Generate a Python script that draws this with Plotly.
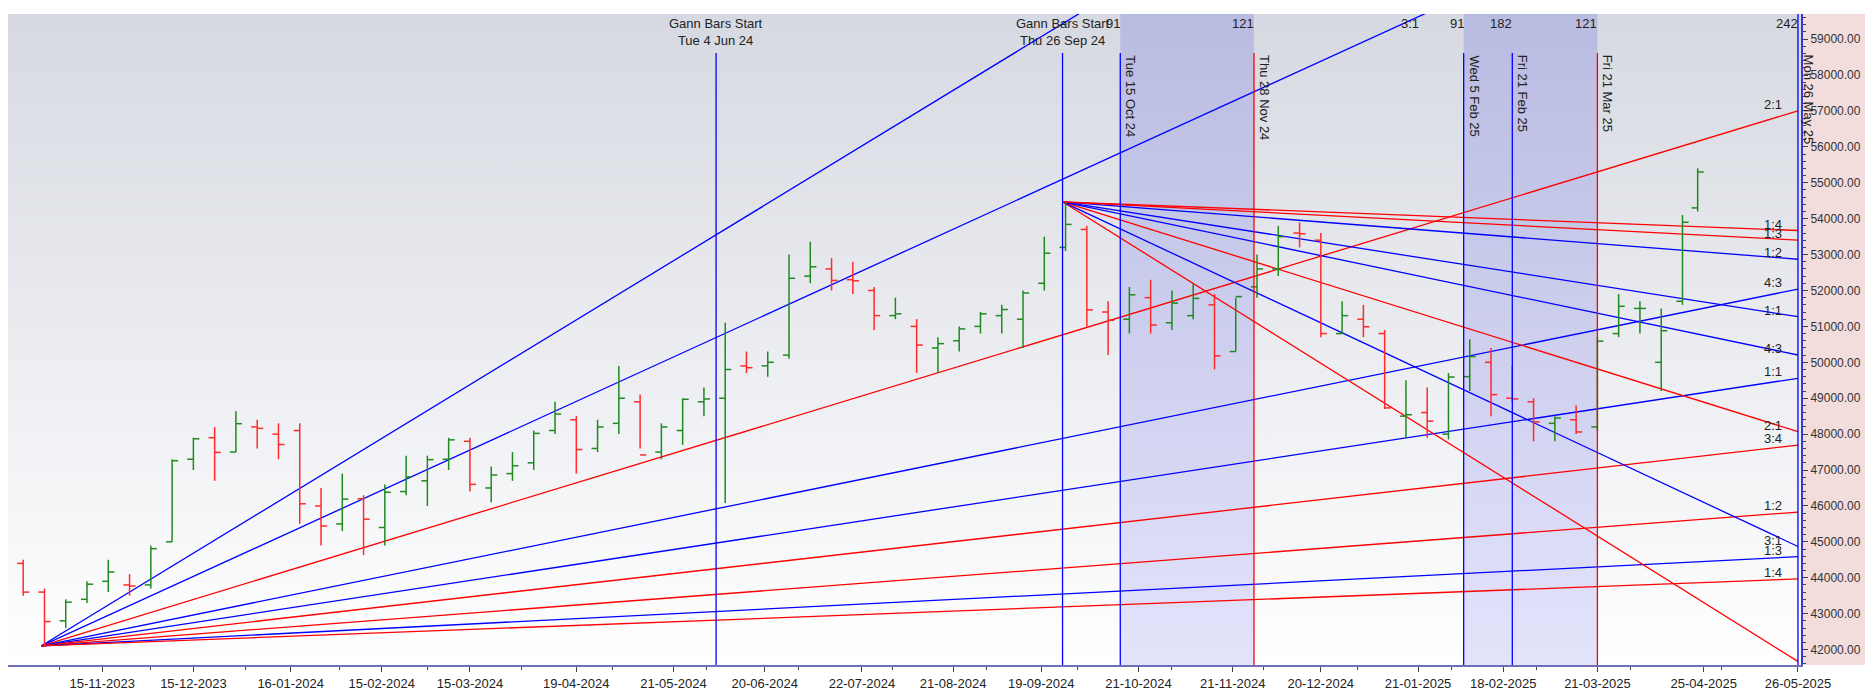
from datetime import date, timedelta

import plotly.graph_objects as go

# weekly bars (week ending date)
dates = ["2023-10-20", "2023-10-27", "2023-11-03", "2023-11-10", "2023-11-17", "2023-11-24",
         "2023-12-01", "2023-12-08", "2023-12-15", "2023-12-22", "2023-12-29", "2024-01-05",
         "2024-01-12", "2024-01-19", "2024-01-26", "2024-02-02", "2024-02-09", "2024-02-16",
         "2024-02-23", "2024-03-01", "2024-03-08", "2024-03-15", "2024-03-22", "2024-03-29",
         "2024-04-05", "2024-04-12", "2024-04-19", "2024-04-26", "2024-05-03", "2024-05-10",
         "2024-05-17", "2024-05-24", "2024-05-31", "2024-06-07", "2024-06-14", "2024-06-21",
         "2024-06-28", "2024-07-05", "2024-07-12", "2024-07-19", "2024-07-26", "2024-08-02",
         "2024-08-09", "2024-08-16", "2024-08-23", "2024-08-30", "2024-09-06", "2024-09-13",
         "2024-09-20", "2024-09-27", "2024-10-04", "2024-10-11", "2024-10-18", "2024-10-25",
         "2024-11-01", "2024-11-08", "2024-11-15", "2024-11-22", "2024-11-29", "2024-12-06",
         "2024-12-13", "2024-12-20", "2024-12-27", "2025-01-03", "2025-01-10", "2025-01-17",
         "2025-01-24", "2025-01-31", "2025-02-07", "2025-02-14", "2025-02-21", "2025-02-28",
         "2025-03-07", "2025-03-14", "2025-03-21", "2025-03-28", "2025-04-04", "2025-04-11",
         "2025-04-18", "2025-04-23"]
opens = [44400, 43600, 42800, 43400, 43900, 43800, 43800, 45000, 47300, 47900, 47500, 48200,
         48000, 48100, 46000, 45500, 46200, 45400, 46400, 46700, 47300, 47800, 46500, 46900,
         47200, 48100, 48400, 47600, 48300, 48900, 47500, 48100, 48900, 49000, 49900, 49900,
         50200, 52400, 52600, 52300, 52000, 51300, 51000, 50400, 50600, 51000, 51300, 51200,
         52200, 53200, 53700, 51400, 51200, 51800, 51100, 51300, 51600, 50300, 52100, 52600,
         53600, 53400, 50800, 51200, 50800, 48500, 48600, 48000, 49600, 50000, 49000, 48900,
         48300, 48400, 48200, 50800, 51500, 50000, 51700, 54300]
highs = [44500, 43700, 43400, 43900, 44500, 44100, 44900, 47300, 47900, 48200, 48640, 48400,
         48300, 48300, 46500, 46900, 46300, 46600, 47400, 47400, 47900, 47900, 47100, 47500,
         48100, 48900, 48500, 48400, 49900, 49100, 48300, 49000, 49300, 51100, 50300, 50300,
         53000, 53360, 52900, 52800, 52100, 51800, 51200, 50700, 51000, 51400, 51600, 52000,
         53500, 54470, 53800, 51700, 52100, 52300, 52000, 52200, 51900, 51800, 53000, 53800,
         53900, 53600, 51700, 51600, 50900, 49500, 49300, 49700, 50640, 50400, 49900, 49000,
         48500, 48800, 50700, 51900, 51700, 51500, 54100, 55400]
lows = [43500, 42105, 42600, 43300, 43600, 43500, 43700, 45000, 47000, 46700, 47500, 47600,
        47300, 45500, 44900, 45300, 44630, 44900, 46300, 46000, 47000, 46400, 46100, 46700,
        47000, 48000, 46900, 47500, 48000, 47600, 47300, 47700, 48500, 46080, 49700, 49600,
        50100, 52200, 52000, 51900, 50900, 51200, 49700, 49700, 50300, 50800, 50800, 50400,
        52000, 53100, 51000, 50200, 50800, 50800, 50900, 51200, 49800, 50300, 51800, 52400,
        53200, 50700, 50800, 50700, 48700, 47900, 47900, 47850, 49200, 48500, 48900, 47800,
        47800, 48000, 48100, 50700, 50800, 49200, 51600, 54200]
closes = [43600, 42780, 43320, 43820, 44160, 43770, 44810, 47260, 47870, 47490, 48290, 48160,
          47710, 46060, 45440, 46190, 45630, 46380, 46810, 47290, 47840, 46600, 46860, 47120,
          48020, 48560, 47570, 48200, 49000, 47420, 48200, 48970, 48980, 49800, 49850, 50000,
          52340, 52660, 52280, 52270, 51300, 51350, 50480, 50520, 50930, 51350, 51470, 51930,
          53040, 53840, 51460, 51170, 51880, 51040, 51650, 51780, 50180, 51830, 52600, 53500,
          53580, 50800, 51300, 50990, 48730, 48540, 48360, 49590, 50160, 49100, 48980, 48340,
          48450, 48060, 50590, 51560, 51500, 50880, 53900, 55300]

# Gann fans: origin, ratio labels, colours, 1:1 move at the right edge
fan_end = "2025-05-26"
fan1_origin = ("2023-10-26", 42105)
fan1_unit = 7450
fan1_ratios = ["4:1", "3:1", "2:1", "4:3", "1:1", "3:4", "1:2", "1:3", "1:4"]
fan1_mult = [4, 3, 2, 4 / 3, 1, 3 / 4, 1 / 2, 1 / 3, 1 / 4]
fan1_colors = ["blue", "blue", "red", "blue", "blue", "red", "red", "blue", "red"]
fan2_origin = ("2024-09-26", 54470)
fan2_unit = -3200
fan2_ratios = ["4:1", "3:1", "2:1", "4:3", "1:1", "1:2", "1:3", "1:4"]
fan2_mult = [4, 3, 2, 4 / 3, 1, 1 / 2, 1 / 3, 1 / 4]
fan2_colors = ["red", "blue", "red", "blue", "blue", "blue", "red", "red"]

# time markers
vline_dates = ["2024-06-04", "2024-09-26", "2024-10-15", "2024-11-28", "2025-02-05",
               "2025-02-21", "2025-03-21", "2025-05-26"]
vline_text = ["", "", "Tue 15 Oct 24", "Thu 28 Nov 24", "Wed 5 Feb 25", "Fri 21 Feb 25",
              "Fri 21 Mar 25", "Mon 26 May 25"]
vline_colors = ["blue", "blue", "blue", "red", "blue", "blue", "red", "blue"]
count_text = ["", "", "91", "121", "91", "182", "121", "242"]
shade_ranges = [("2024-10-15", "2024-11-28"), ("2025-02-05", "2025-03-21")]

tick_dates = ["2023-11-15", "2023-12-15", "2024-01-16", "2024-02-15", "2024-03-15",
              "2024-04-19", "2024-05-21", "2024-06-20", "2024-07-22", "2024-08-21",
              "2024-09-19", "2024-10-21", "2024-11-21", "2024-12-20", "2025-01-21",
              "2025-02-18", "2025-03-21", "2025-04-25", "2025-05-26"]
tick_text = ["-".join(reversed(d.split("-"))) for d in tick_dates]

x_start, x_stop = "2023-10-15", "2025-05-27"
y_lo, y_hi = 41570, 59700

fig = go.Figure()

# background gradient
fig.add_trace(go.Scatter(x=[x_start, x_stop, x_stop, x_start], y=[y_lo, y_lo, y_hi, y_hi],
                         fill="toself", mode="none", hoverinfo="skip", showlegend=False,
                         fillgradient=dict(type="vertical",
                                           colorscale=[[0, "#ffffff"], [1, "#d6d9e1"]])))
for a, b in shade_ranges:
    fig.add_trace(go.Scatter(x=[a, b, b, a], y=[y_lo, y_lo, y_hi, y_hi],
                             fill="toself", mode="none", hoverinfo="skip", showlegend=False,
                             fillgradient=dict(type="vertical",
                                               colorscale=[[0, "rgba(215,215,250,0.7)"],
                                                           [1, "rgba(175,178,225,0.75)"]])))

for origin, unit, mults, cols in [(fan1_origin, fan1_unit, fan1_mult, fan1_colors),
                                   (fan2_origin, fan2_unit, fan2_mult, fan2_colors)]:
    for m, c in zip(mults, cols):
        fig.add_trace(go.Scatter(x=[origin[0], fan_end], y=[origin[1], origin[1] + unit * m],
                                 mode="lines", line=dict(color=c, width=1.3),
                                 hoverinfo="skip", showlegend=False))

# OHLC bars drawn as line segments (stem, open tick left, close tick right)
bars = {True: ([], []), False: ([], [])}
for d, o, h, l, c in zip(dates, opens, highs, lows, closes):
    t = date.fromisoformat(d)
    left, right = t - timedelta(days=2), t + timedelta(days=2)
    xs, ys = bars[c >= o]
    xs += [t, t, None, left, t, None, t, right, None]
    ys += [l, h, None, o, o, None, c, c, None]
for up, col in [(True, "#1f8a1f"), (False, "#ff2a2a")]:
    fig.add_trace(go.Scatter(x=bars[up][0], y=bars[up][1], mode="lines",
                             line=dict(color=col, width=1.5), hoverinfo="skip",
                             showlegend=False))

font = dict(family="Liberation Sans, Arial", size=13, color="#222")
for d, txt, c, n in zip(vline_dates, vline_text, vline_colors, count_text):
    top = 1 if d == fan_end else 0.94
    fig.add_shape(type="line", xref="x", yref="paper", x0=d, x1=d, y0=0, y1=top,
                  line=dict(color=c, width=1.3))
    if txt:
        fig.add_annotation(x=d, y=0.94, xref="x", yref="paper", text=txt, textangle=90,
                           showarrow=False, xanchor="left", yanchor="top", xshift=1, font=font)
    if n:
        fig.add_annotation(x=d, y=1.0, xref="x", yref="paper", text=n, showarrow=False,
                           xanchor="right", yanchor="top", xshift=2, font=font)
for d in vline_dates[:2]:
    day = {"2024-06-04": "Tue 4 Jun 24", "2024-09-26": "Thu 26 Sep 24"}[d]
    fig.add_annotation(x=d, y=1.0, xref="x", yref="paper", text="Gann Bars Start<br>" + day,
                       showarrow=False, xanchor="center", yanchor="top", font=font)

for origin, unit, mults, labels in [(fan1_origin, fan1_unit, fan1_mult, fan1_ratios),
                                     (fan2_origin, fan2_unit, fan2_mult, fan2_ratios)]:
    for m, lab in zip(mults, labels):
        yv = origin[1] + unit * m
        if y_lo + 400 < yv < y_hi:
            fig.add_annotation(x=fan_end, y=yv, text=lab, showarrow=False, xanchor="right",
                               yanchor="bottom", xshift=-14, yshift=-3, font=font)
fig.add_annotation(x="2025-01-22", y=1.0, xref="x", yref="paper", text="3:1", showarrow=False,
                   xanchor="right", yanchor="top", font=font)

fig.add_shape(type="rect", xref="paper", yref="paper", x0=1, x1=1.06, y0=-0.0, y1=1,
              fillcolor="#f3dcdc", line_width=0, layer="below")

fig.update_layout(
    width=1873, height=691,
    margin=dict(l=0, r=80, t=6, b=34),
    paper_bgcolor="white", plot_bgcolor="white",
    showlegend=False, hovermode=False,
    xaxis=dict(type="date", range=[x_start, x_stop],
               tickvals=tick_dates, ticktext=tick_text, ticks="outside", ticklen=5,
               showgrid=False, showline=True, linecolor="#6f6fb8", linewidth=2,
               tickfont=font, minor=dict(ticks="outside", ticklen=3, nticks=5)),
    yaxis=dict(side="right", range=[y_lo, y_hi], dtick=1000, tick0=42000, tickformat=".2f",
               showgrid=False, ticks="outside", ticklen=5, showline=True,
               linecolor="#3a3ad0", linewidth=2,
               tickfont=dict(family="Liberation Sans, Arial", size=12, color="#333"),
               minor=dict(ticks="outside", ticklen=3, dtick=200)),
)

fig.write_html("out.html")
